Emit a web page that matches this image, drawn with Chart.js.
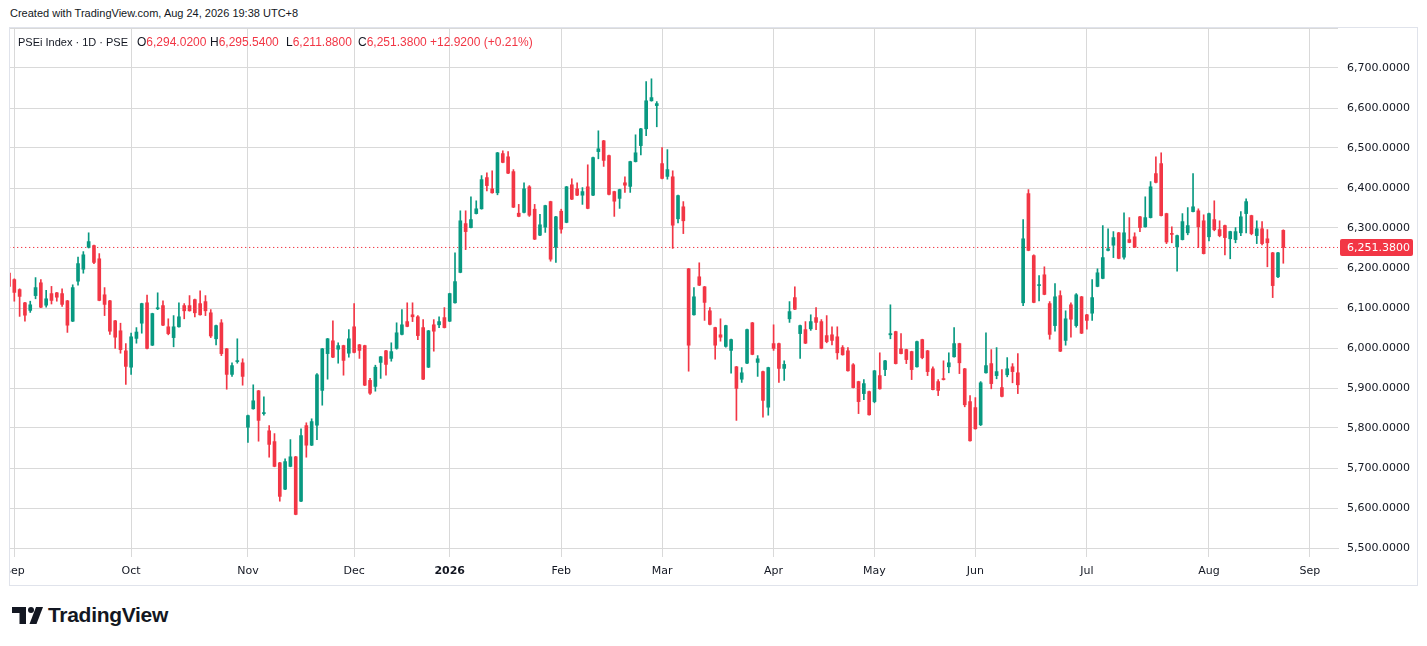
<!DOCTYPE html>
<html>
<head>
<meta charset="utf-8">
<script src="https://cdn.jsdelivr.net/npm/chart.js@4.4.1/dist/chart.umd.min.js"></script>
<style>
  html, body { margin: 0; padding: 0; background: #fff; }
  body { width: 1427px; height: 646px; position: relative; overflow: hidden;
         font-family: "Liberation Sans", Arial, sans-serif; color: #131722; }
  #created { position: absolute; left: 10px; top: 7px; font-size: 11px; }
  #frame { position: absolute; left: 9px; top: 27px; width: 1407px; height: 557px; border: 1px solid #e0e3eb; }
  #frame canvas { position: absolute; left: 0; top: 0; }
  .lg { position: absolute; top: 35px; font-size: 12px; white-space: nowrap; }
  .v { color: #F23645; }
  #logo { position: absolute; left: 12px; top: 607px; }
  #brand { position: absolute; left: 48px; top: 603px; font-size: 21px; font-weight: bold; letter-spacing: -0.3px; color: #131722; }
</style>
</head>
<body>
<div id="created">Created with TradingView.com, Aug 24, 2026 19:38 UTC+8</div>
<div id="frame"><canvas id="chart" width="1407" height="557"></canvas></div>
<div class="lg" style="left:18px;top:36px;font-size:11px">PSEi Index · 1D · PSE</div>
<div class="lg" style="left:137px">O<span class="v">6,294.0200</span></div>
<div class="lg" style="left:210px">H<span class="v">6,295.5400</span></div>
<div class="lg" style="left:286px">L<span class="v">6,211.8800</span></div>
<div class="lg" style="left:358px">C<span class="v">6,251.3800</span></div>
<div class="lg v" style="left:430px">+12.9200 (+0.21%)</div>
<svg id="logo" width="31" height="17" viewBox="0 0 31 17">
  <path d="M0 0 H14 V17 H7.5 V6 H0 Z" fill="#131722"/>
  <circle cx="19" cy="3" r="3" fill="#131722"/>
  <path d="M24 0 H31 L24.5 17 H17.5 Z" fill="#131722"/>
</svg>
<div id="brand">TradingView</div>

<script>
// daily candles, Aug 29 2025 .. Aug 24 2026 (bar index = trading day)
var opens = [
	6187, 6171, 6146, 6113, 6094, 6131, 6163, 6107, 6136, 6138,
	6136, 6118, 6067, 6167, 6197, 6252, 6256, 6223, 6133, 6118,
	6068, 6043, 5993, 5952, 6024, 6062, 6113, 6007, 6098, 6106,
	6053, 6026, 6053, 6106, 6106, 6121, 6111, 6116, 6088, 6023,
	6063, 5998, 5934, 5966, 5963, 5802, 5848, 5893, 5836, 5793,
	5766, 5713, 5647, 5704, 5728, 5617, 5806, 5757, 5807, 5894,
	5986, 6018, 5997, 6006, 5987, 6053, 6008, 6006, 5919, 5904,
	5964, 5993, 5974, 5999, 6034, 6066, 6083, 6078, 6051, 5952,
	6058, 6058, 6076, 6067, 6113, 6189, 6311, 6301, 6336, 6348,
	6426, 6398, 6388, 6486, 6478, 6441, 6337, 6339, 6403, 6347,
	6282, 6302, 6366, 6252, 6342, 6314, 6408, 6398, 6382, 6403,
	6382, 6491, 6518, 6481, 6391, 6374, 6413, 6404, 6466, 6506,
	6548, 6618, 6606, 6461, 6429, 6428, 6323, 6353, 6198, 6083,
	6178, 6153, 6093, 6051, 6033, 6004, 5994, 5953, 5922, 5962,
	6063, 5964, 5941, 5852, 6011, 6011, 5949, 6073, 6126, 6036,
	6046, 6048, 6076, 6066, 6031, 6033, 6028, 6001, 5993, 5958,
	5916, 5886, 5891, 5866, 5931, 5946, 6033, 6041, 5998, 5996,
	5991, 5953, 6021, 5993, 5948, 5916, 5923, 5953, 5978, 6011,
	5948, 5866, 5851, 5808, 5938, 5961, 5931, 5901, 5933, 5953,
	5938, 6113, 6386, 6231, 6156, 6183, 6111, 6056, 6131, 6019,
	6108, 6056, 6128, 6083, 6087, 6154, 6174, 6244, 6257, 6288,
	6227, 6271, 6278, 6328, 6303, 6326, 6436, 6461, 6336, 6286,
	6253, 6271, 6288, 6341, 6343, 6318, 6278, 6321, 6296, 6306,
	6273, 6271, 6288, 6336, 6331, 6281, 6298, 6273, 6238, 6178, 6294.02
];
var highs = [
	6190, 6173, 6148, 6114, 6117, 6176, 6171, 6144, 6154, 6139,
	6148, 6119, 6158, 6227, 6241, 6288, 6257, 6236, 6151, 6119,
	6069, 6062, 6011, 6037, 6051, 6112, 6132, 6087, 6138, 6118,
	6073, 6081, 6113, 6111, 6131, 6122, 6143, 6131, 6096, 6057,
	6071, 5999, 5963, 6023, 5973, 5832, 5908, 5894, 5878, 5806,
	5786, 5714, 5723, 5771, 5729, 5798, 5813, 5823, 5936, 5999,
	6024, 6068, 6013, 6007, 6046, 6111, 6009, 6007, 5924, 5957,
	5979, 5994, 6013, 6063, 6096, 6113, 6113, 6081, 6071, 6044,
	6071, 6078, 6101, 6137, 6238, 6343, 6343, 6378, 6368, 6431,
	6438, 6443, 6489, 6493, 6491, 6446, 6359, 6413, 6406, 6359,
	6334, 6357, 6367, 6329, 6347, 6404, 6423, 6413, 6401, 6458,
	6477, 6543, 6519, 6482, 6392, 6397, 6428, 6467, 6533, 6549,
	6666, 6673, 6616, 6501, 6496, 6443, 6382, 6366, 6199, 6151,
	6213, 6154, 6101, 6052, 6073, 6057, 6022, 5954, 5951, 6047,
	6064, 5981, 5942, 5952, 6058, 6012, 5968, 6116, 6153, 6057,
	6066, 6083, 6101, 6071, 6081, 6053, 6053, 6006, 6001, 5961,
	5917, 5921, 5892, 5944, 5988, 5969, 6108, 6042, 6036, 5997,
	5992, 6017, 6022, 5994, 5953, 5921, 5968, 5988, 6051, 6012,
	5949, 5881, 5876, 5916, 6038, 5996, 6001, 5946, 5976, 5961,
	5986, 6321, 6396, 6233, 6181, 6203, 6116, 6161, 6143, 6093,
	6113, 6136, 6129, 6084, 6171, 6198, 6306, 6298, 6291, 6289,
	6338, 6326, 6288, 6329, 6378, 6416, 6478, 6488, 6337, 6303,
	6282, 6336, 6351, 6436, 6348, 6333, 6337, 6368, 6318, 6307,
	6292, 6301, 6341, 6373, 6332, 6318, 6316, 6296, 6239, 6239, 6295.54
];
var lows = [
	6150, 6117, 6079, 6067, 6089, 6123, 6101, 6102, 6110, 6117,
	6104, 6039, 6066, 6157, 6187, 6250, 6211, 6118, 6081, 6034,
	5999, 5987, 5909, 5934, 6012, 6037, 5998, 6006, 6096, 6056,
	6033, 6003, 6052, 6073, 6092, 6078, 6082, 6081, 6026, 6008,
	5981, 5897, 5929, 5962, 5907, 5764, 5847, 5767, 5832, 5727,
	5703, 5617, 5646, 5703, 5583, 5616, 5727, 5756, 5771, 5857,
	5922, 5976, 5962, 5932, 5977, 5988, 5974, 5906, 5884, 5892,
	5924, 5932, 5967, 5997, 6033, 6053, 6066, 6021, 5921, 5951,
	5992, 6051, 6050, 6066, 6112, 6188, 6246, 6300, 6335, 6347,
	6393, 6387, 6383, 6463, 6436, 6351, 6328, 6338, 6329, 6271,
	6281, 6289, 6217, 6214, 6287, 6313, 6371, 6381, 6359, 6348,
	6381, 6473, 6454, 6383, 6329, 6349, 6389, 6389, 6465, 6483,
	6531, 6617, 6553, 6423, 6422, 6249, 6313, 6286, 5942, 6082,
	6156, 6069, 6058, 5972, 6017, 6002, 5937, 5819, 5914, 5961,
	5983, 5929, 5827, 5832, 5994, 5914, 5919, 6064, 6096, 5974,
	6011, 6044, 6046, 5998, 6013, 6008, 5972, 5982, 5942, 5900,
	5836, 5871, 5832, 5863, 5897, 5931, 6023, 5960, 5985, 5961,
	5921, 5952, 5973, 5931, 5895, 5881, 5920, 5938, 5977, 5936,
	5853, 5767, 5797, 5806, 5937, 5898, 5923, 5878, 5928, 5913,
	5886, 6106, 6243, 6113, 6118, 6133, 6022, 6042, 5991, 6007,
	6027, 6052, 6036, 6047, 6069, 6153, 6173, 6243, 6226, 6223,
	6222, 6263, 6251, 6291, 6302, 6325, 6413, 6330, 6261, 6263,
	6192, 6270, 6283, 6340, 6251, 6235, 6268, 6293, 6278, 6233,
	6223, 6263, 6281, 6288, 6283, 6261, 6258, 6203, 6126, 6176, 6211.88
];
var closes = [
	6154, 6139, 6129, 6082, 6108, 6151, 6102, 6123, 6119, 6127,
	6109, 6057, 6151, 6211, 6233, 6266, 6214, 6119, 6109, 6042,
	6027, 5996, 5954, 6028, 6040, 6111, 5999, 6086, 6100, 6057,
	6036, 6053, 6078, 6093, 6093, 6088, 6083, 6093, 6030, 6056,
	5986, 5934, 5956, 5968, 5929, 5831, 5868, 5819, 5838, 5759,
	5704, 5629, 5716, 5728, 5584, 5781, 5757, 5816, 5933, 5998,
	6023, 5977, 6006, 5969, 6023, 5989, 5994, 5907, 5887, 5952,
	5978, 5959, 5991, 6038, 6058, 6054, 6078, 6031, 5922, 6043,
	6042, 6066, 6051, 6136, 6166, 6318, 6291, 6321, 6348, 6421,
	6406, 6388, 6488, 6464, 6437, 6352, 6329, 6398, 6332, 6272,
	6308, 6356, 6222, 6328, 6297, 6403, 6372, 6382, 6391, 6349,
	6476, 6498, 6469, 6384, 6367, 6396, 6407, 6466, 6488, 6548,
	6618, 6626, 6611, 6424, 6446, 6307, 6381, 6318, 6007, 6128,
	6157, 6114, 6059, 6007, 6027, 6056, 6021, 5899, 5938, 6046,
	5984, 5973, 5869, 5951, 5999, 5949, 5959, 6091, 6097, 6056,
	6012, 6066, 6064, 5999, 6016, 6019, 5988, 5983, 5943, 5901,
	5866, 5911, 5833, 5943, 5898, 5968, 6036, 5961, 5986, 5971,
	5946, 6016, 5976, 5941, 5896, 5894, 5921, 5963, 6011, 5963,
	5858, 5768, 5798, 5913, 5956, 5911, 5941, 5879, 5948, 5941,
	5908, 6273, 6244, 6114, 6158, 6134, 6034, 6128, 5992, 6073,
	6072, 6133, 6037, 6069, 6126, 6188, 6226, 6248, 6276, 6224,
	6288, 6264, 6252, 6301, 6326, 6403, 6414, 6331, 6265, 6284,
	6281, 6316, 6306, 6353, 6303, 6236, 6336, 6296, 6281, 6276,
	6291, 6291, 6328, 6366, 6286, 6298, 6261, 6263, 6156, 6238, 6251.38
];

// month starts as bar indexes, and their labels
var monthBars = [1, 23, 45, 65, 83, 104, 123, 144, 163, 182, 203, 226, 245];
var monthLabels = ['Sep', 'Oct', 'Nov', 'Dec', '2026', 'Feb', 'Mar', 'Apr', 'May', 'Jun', 'Jul', 'Aug', 'Sep'];

var lastClose = closes[closes.length - 1];
var upColor = '#089981';
var downColor = '#F23645';
var gridColor = '#d9d9d9';

function fmt(v) {
	return v.toLocaleString('en-US', { minimumFractionDigits: 4, maximumFractionDigits: 4 });
}

var bodies = [], wicks = [], colors = [];
for (var i = 0; i < opens.length; i++) {
	bodies.push({ x: i, y: [opens[i], closes[i]] });
	wicks.push({ x: i, y: [lows[i], highs[i]] });
	colors.push(closes[i] >= opens[i] ? upColor : downColor);
}

var lastPriceTag = {
	id: 'lastPriceTag',
	afterDraw: function (chart) {
		var ys = chart.scales.y;
		var y = ys.getPixelForValue(lastClose);
		var c = chart.ctx;
		c.save();
		c.fillStyle = downColor;
		c.beginPath();
		c.roundRect(ys.left + 2, y - 8.5, 73, 17, 2);
		c.fill();
		c.fillStyle = '#ffffff';
		c.font = '11px "DejaVu Sans"';
		c.textBaseline = 'middle';
		c.fillText(fmt(lastClose), ys.left + 9, y + 0.5);
		c.restore();
	}
};

var ctx = document.getElementById('chart').getContext('2d');
new Chart(ctx, {
	type: 'bar',
	data: {
		datasets: [{
			label: 'body',
			data: bodies,
			backgroundColor: colors,
			barThickness: 3,
			minBarLength: 1,
			grouped: false,
			order: 1
		}, {
			label: 'wick',
			data: wicks,
			backgroundColor: colors,
			barThickness: 1,
			grouped: false,
			order: 2
		}, {
			type: 'line',
			label: 'last',
			data: [{ x: 0, y: lastClose }, { x: 251, y: lastClose }],
			borderColor: downColor,
			borderWidth: 1,
			borderDash: [1.3, 2.7],
			pointRadius: 0,
			order: 3
		}]
	},
	options: {
		responsive: false,
		animation: false,
		layout: { padding: 0 },
		plugins: {
			legend: { display: false },
			tooltip: { enabled: false }
		},
		scales: {
			x: {
				type: 'linear',
				min: 0.188,
				max: 250.3,
				bounds: 'data',
				offset: false,
				grid: { color: gridColor, offset: false, drawTicks: true, tickLength: 9 },
				border: { color: gridColor },
				afterBuildTicks: function (scale) {
					scale.ticks = monthBars.map(function (v) { return { value: v }; });
				},
				afterFit: function (scale) {
					scale.height = 37;
					scale.paddingLeft = 0;
					scale.paddingRight = 0;
				},
				ticks: {
					autoSkip: false,
					maxRotation: 0,
					padding: 8,
					color: '#131722',
					font: function (c) {
						return { family: 'DejaVu Sans', size: 11, weight: (c.tick && c.tick.value === 83) ? 'bold' : 'normal' };
					},
					callback: function (value, index) { return monthLabels[index]; }
				}
			},
			y: {
				position: 'right',
				min: 5500,
				max: 6800,
				grid: { color: gridColor, drawTicks: false },
				border: { display: false },
				afterFit: function (scale) {
					scale.width = 79;
					scale.paddingTop = 0;
					scale.paddingBottom = 0;
				},
				ticks: {
					stepSize: 100,
					padding: 9,
					color: '#131722',
					font: { family: 'DejaVu Sans', size: 11 },
					callback: function (value) { return value >= 6800 ? '' : fmt(value); }
				}
			}
		}
	},
	plugins: [lastPriceTag]
});
</script>
</body>
</html>
